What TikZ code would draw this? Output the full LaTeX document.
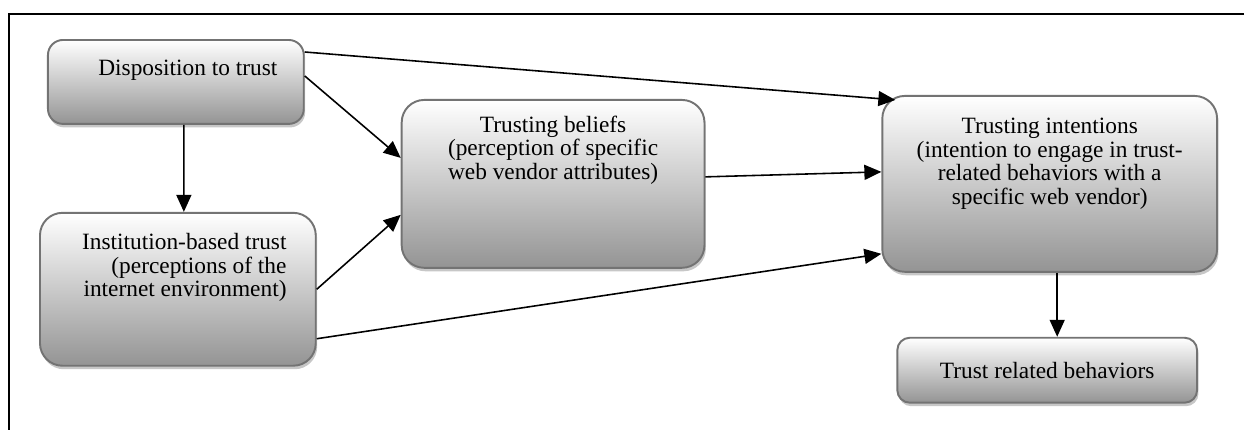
\documentclass[tikz,border=0pt]{standalone}
\usepackage{fontspec}
\setmainfont{Liberation Serif}
\usetikzlibrary{shadows}
\usetikzlibrary{arrows.meta}
\tikzset{
    mybox/.style = {rectangle, rounded corners=0.45cm, draw=black!55, line width=1.1pt, top color=white, bottom color=black!42, drop shadow={shadow xshift=0.8pt, shadow yshift=-2pt, fill=black!22, opacity=1}},
    mytext/.style = {font=\fontsize{13.3}{13.4}\selectfont, align=center, inner sep=0pt},
    edgen/.style = {-{Triangle[length=0.34cm,width=0.3cm]}, line width=0.9pt},
    frame/.style = {line width=1.1pt}
}
\begin{document}
\begin{tikzpicture}
%
\node[mybox, rounded corners=0.3cm, minimum width=5.12cm, minimum height=1.68cm,
  label={[mytext, xshift=0.24cm, yshift=0.24cm]center:Disposition to trust}] at (3.52,-1.64) (disp) {};
\node[mybox, minimum width=5.52cm, minimum height=3.06cm,
  label={[mytext, align=right, xshift=0.13cm, yshift=0.43cm]center:{Institution-based trust\\(perceptions of the\\internet environment)}}] at (3.56,-5.79) (inst) {};
\node[mybox, minimum width=6.06cm, minimum height=3.36cm,
  label={[mytext, yshift=0.68cm]center:{Trusting beliefs\\(perception of specific\\web vendor attributes)}}] at (11.07,-3.68) (bel) {};
\node[mybox, minimum width=6.7cm, minimum height=3.52cm,
  label={[mytext, yshift=0.4cm]center:{Trusting intentions\\(intention to engage in trust-\\related behaviors with a\\specific web vendor)}}] at (21.01,-3.68) (int) {};
\node[mybox, rounded corners=0.25cm, minimum width=6.0cm, minimum height=1.3cm,
  label={[mytext]center:Trust related behaviors}] at (20.96,-7.41) (beh) {};
%
\draw[edgen] ([yshift=-0.26cm]disp.north east) -- ([xshift=0.28cm,yshift=-0.1cm]int.north west);
\draw[edgen] ([yshift=0.12cm]disp.east) -- ([yshift=0.52cm]bel.west);
\draw[edgen] ([xshift=0.16cm]disp.south) -- ([xshift=0.12cm]inst.north);
\draw[edgen] (inst.east) -- ([yshift=-0.62cm]bel.west);
\draw[edgen] ([yshift=-0.99cm]inst.east) -- ([yshift=-1.4cm]int.west);
\draw[edgen] ([yshift=0.14cm]bel.east) -- ([yshift=0.24cm]int.west);
\draw[edgen] ([xshift=0.15cm]int.south) -- ([xshift=0.15cm]int.south |- beh.north);
%
\draw[frame] (24.9,-0.28) -- (0.18,-0.28) -- (0.18,-8.6);

\path[use as bounding box] (0,0) rectangle (24.9,-8.6);
\end{tikzpicture}
\end{document}
